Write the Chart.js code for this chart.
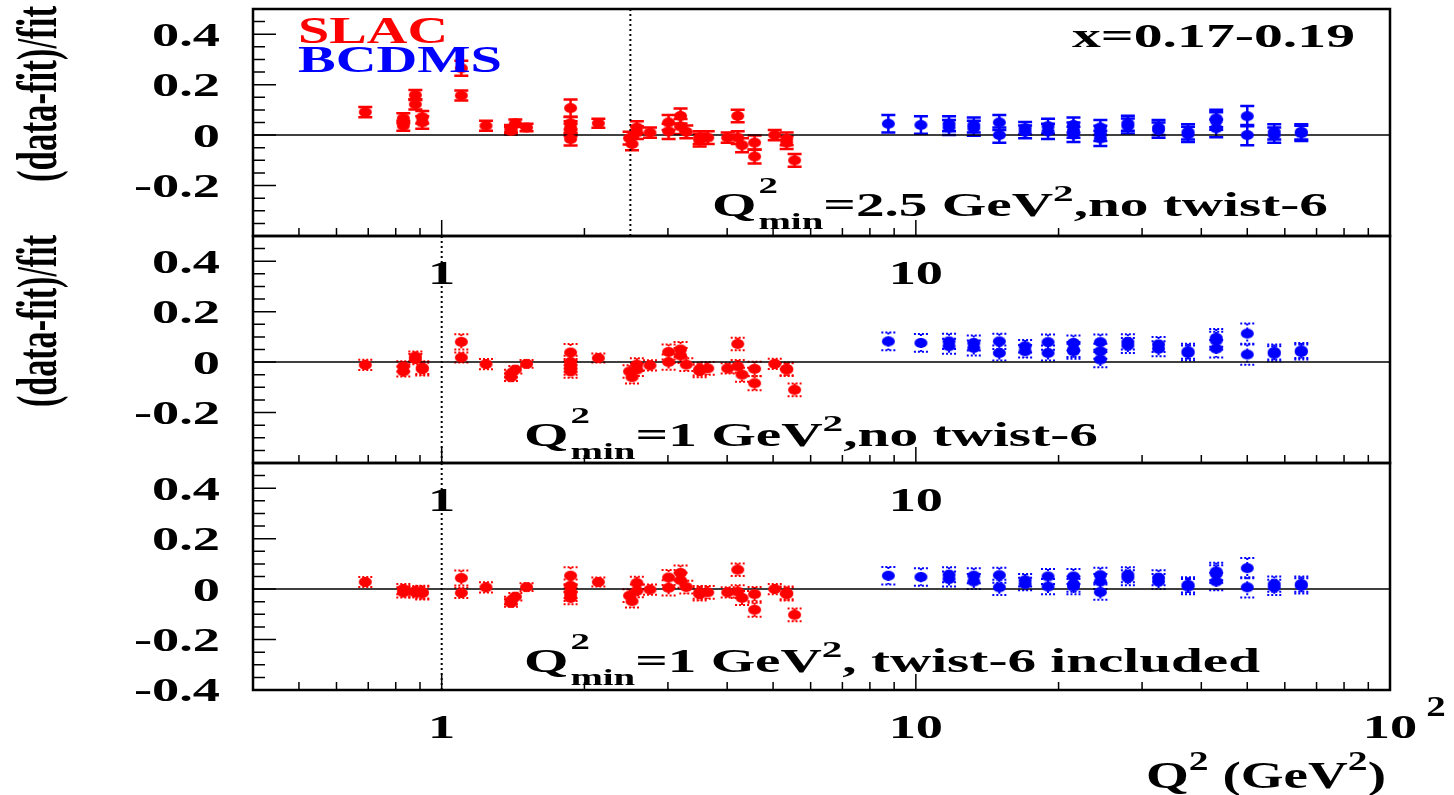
<!DOCTYPE html>
<html>
<head>
<meta charset="utf-8">
<title>(data-fit)/fit vs Q2</title>
<script src="https://cdn.jsdelivr.net/npm/chart.js@4/dist/chart.umd.min.js"></script>
<style>
  html, body { margin: 0; padding: 0; background: #fff; }
  #wrap { position: relative; width: 1454px; height: 795px; overflow: hidden; }
  canvas { position: absolute; left: 0; top: 0; }
  .lbl {
    position: absolute; white-space: nowrap; line-height: 1;
    font-family: "Liberation Serif", "DejaVu Serif", serif; font-weight: bold;
    transform-origin: 0 0;
  }
  .sp { position: relative; font-size: 0.68em; top: -1.05em; margin-left: 0.05em; margin-right: -0.5em; }
  .sb { position: relative; font-size: 0.68em; top: 0.55em; }
  .su { position: relative; font-size: 0.72em; top: -0.65em; }
</style>
</head>
<body>
<div id="wrap">
  <canvas id="c1" width="1454" height="795"></canvas>
  <canvas id="c2" width="1454" height="795"></canvas>
  <canvas id="c3" width="1454" height="795"></canvas>
</div>
<script>
// ---------- SLAC DATA ----------
const slacQ2 = [0.69, 0.83, 0.83, 0.88, 0.88, 0.91, 0.91, 1.10, 1.10, 1.24,
  1.40, 1.40, 1.43, 1.51, 1.87, 1.87, 1.87, 1.87, 1.87, 2.14,
  2.49, 2.52, 2.58, 2.58, 2.75, 3.01, 3.01, 3.19, 3.19, 3.28,
  3.50, 3.50, 3.64, 4.01, 4.21, 4.21, 4.30, 4.57, 4.57, 5.04,
  5.34, 5.34, 5.55];
const slacTop = [0.091, 0.067, 0.037, 0.159, 0.122, 0.071, 0.05, 0.265, 0.157, 0.037,
  0.017, 0.025, 0.047, 0.03, 0.107, 0.047, 0.03, 0.02, -0.016, 0.047,
  -0.012, -0.035, 0.03, 0.01, 0.01, 0.05, 0.015, 0.076, 0.034, 0.013,
  -0.01, -0.02, -0.01, -0.01, 0.076, -0.01, -0.04, -0.03, -0.085, 0.0,
  -0.015, -0.03, -0.1];
const slacMid = [-0.011, -0.017, -0.037, 0.022, 0.012, -0.028, -0.022, 0.08, 0.018, -0.008,
  -0.06, -0.045, -0.03, -0.007, 0.038, 0.0, -0.013, -0.025, -0.037, 0.016,
  -0.037, -0.06, -0.01, -0.03, -0.013, 0.04, 0.0, 0.05, 0.026, -0.01,
  -0.028, -0.035, -0.025, -0.025, 0.072, -0.017, -0.05, -0.027, -0.084, -0.007,
  -0.027, -0.03, -0.11];
const slacBot = [0.028, 0.0, -0.013, -0.013, -0.008, -0.016, -0.012, 0.044, -0.015, 0.007,
  -0.055, -0.045, -0.03, 0.008, 0.053, 0.013, -0.01, -0.022, -0.035, 0.028,
  -0.026, -0.048, 0.024, -0.007, -0.002, 0.046, 0.005, 0.064, 0.035, 0.008,
  -0.02, -0.013, -0.013, -0.013, 0.077, -0.01, -0.035, -0.02, -0.082, 0.0,
  -0.015, -0.02, -0.102];
const slacErr = [0.02, 0.02, 0.02, 0.02, 0.02, 0.025, 0.025, 0.03, 0.02, 0.02,
  0.015, 0.015, 0.015, 0.015, 0.034, 0.025, 0.025, 0.025, 0.025, 0.018,
  0.025, 0.025, 0.025, 0.025, 0.02, 0.03, 0.03, 0.03, 0.03, 0.025,
  0.025, 0.025, 0.025, 0.02, 0.025, 0.025, 0.028, 0.028, 0.028, 0.02,
  0.025, 0.025, 0.025];

// ---------- BCDMS DATA ----------
const bcdmsQ2 = [8.75, 10.25, 11.75, 11.75, 13.25, 13.25, 15, 15, 17, 17,
  19, 19, 21.5, 21.5, 21.5, 24.5, 24.5, 24.5, 28, 28,
  32.5, 32.5, 37.5, 37.5, 43, 43, 43, 50, 50, 57,
  57, 65, 65];
const bcdmsTop = [0.045, 0.04, 0.045, 0.03, 0.04, 0.027, 0.05, 0.0, 0.027, 0.013,
  0.035, 0.015, 0.04, 0.02, 0.003, 0.03, 0.007, -0.013, 0.047, 0.036,
  0.03, 0.02, 0.013, 0.003, 0.066, 0.056, 0.027, 0.075, 0.0, 0.013,
  0.0, 0.013, 0.007];
const bcdmsMid = [0.082, 0.076, 0.082, 0.063, 0.076, 0.056, 0.082, 0.036, 0.063, 0.043,
  0.079, 0.036, 0.076, 0.05, 0.043, 0.079, 0.043, 0.01, 0.08, 0.066,
  0.07, 0.053, 0.043, 0.036, 0.096, 0.085, 0.053, 0.113, 0.03, 0.04,
  0.033, 0.046, 0.04];
const bcdmsBot = [0.053, 0.048, 0.057, 0.04, 0.053, 0.03, 0.055, 0.007, 0.035, 0.02,
  0.05, 0.01, 0.05, 0.02, 0.01, 0.055, 0.03, -0.012, 0.057, 0.045,
  0.045, 0.03, 0.017, 0.01, 0.07, 0.06, 0.03, 0.083, 0.007, 0.02,
  0.007, 0.02, 0.013];
const bcdmsErr = [0.035, 0.035, 0.03, 0.03, 0.03, 0.03, 0.03, 0.03, 0.025, 0.025,
  0.03, 0.03, 0.03, 0.03, 0.03, 0.03, 0.03, 0.03, 0.03, 0.03,
  0.03, 0.03, 0.03, 0.03, 0.035, 0.035, 0.035, 0.04, 0.04, 0.03,
  0.03, 0.03, 0.03];

// ---------- AXES ----------
const X_MIN = 0.4, X_MAX = 100;
const Y_MIN = -0.4, Y_MAX = 0.5;
const xTicks = [0.5, 0.6, 0.7, 0.8, 0.9, 1, 2, 3, 4, 5, 6, 7, 8, 9, 10, 20, 30, 40, 50, 60, 70, 80, 90];
const xMajorTicks = [1, 10];
const xLabelVals = [1, 10, 100];
const xLabelText = ["1", "10", "10"];
const yMinorTicks = [-0.35, -0.3, -0.25, -0.15, -0.1, -0.05, 0.05, 0.1, 0.15, 0.25, 0.3, 0.35, 0.45];
const yMajorTicks = [-0.4, -0.2, 0, 0.2, 0.4];
const yLabelText = ["-0.4", "-0.2", "0", "0.2", "0.4"];

// ---------- STYLE ----------
const RED = "#ff0000";
const BLUE = "#0000ff";
const FONT = '"Liberation Serif", "DejaVu Serif", serif';

function dot(color) {
  const c = document.createElement("canvas");
  c.width = 15; c.height = 12;
  const g = c.getContext("2d");
  g.fillStyle = color;
  g.beginPath();
  g.ellipse(7.5, 6, 6.5, 5, 0, 0, Math.PI * 2);
  g.fill();
  return c;
}
const redDot = dot(RED);
const blueDot = dot(BLUE);

// stretched text, like the wide fonts of the original
function stretchText(ctx, txt, px, py, size, sx, align) {
  ctx.save();
  ctx.translate(px, py);
  ctx.scale(sx, 1);
  ctx.font = "bold " + size + "px " + FONT;
  ctx.textAlign = align;
  ctx.textBaseline = "alphabetic";
  ctx.fillStyle = "#000";
  ctx.fillText(txt, 0, 0);
  ctx.restore();
}

// ---------- ERROR BARS ----------
const errorBars = {
  id: "errorBars",
  beforeDatasetsDraw(chart) {
    const ctx = chart.ctx;
    const y = chart.scales.y;
    const dotted = chart.options.plugins.errorBars.dotted;
    chart.data.datasets.forEach((ds, i) => {
      const meta = chart.getDatasetMeta(i);
      ctx.save();
      ctx.strokeStyle = ds.borderColor;
      ctx.lineWidth = dotted ? 2 : 2.5;
      if (dotted) ctx.setLineDash([2, 2]);
      meta.data.forEach((pt, j) => {
        const v = ds.data[j].y;
        const e = ds.errors[j];
        const hi = y.getPixelForValue(v + e);
        const lo = y.getPixelForValue(v - e);
        ctx.beginPath();
        ctx.moveTo(pt.x, hi); ctx.lineTo(pt.x, lo);
        ctx.moveTo(pt.x - 7, hi); ctx.lineTo(pt.x + 7, hi);
        ctx.moveTo(pt.x - 7, lo); ctx.lineTo(pt.x + 7, lo);
        ctx.stroke();
      });
      ctx.restore();
    });
  }
};

// ---------- FRAME, TICKS, LABELS ----------
function makeAxesPlugin(p) {
  return {
    id: "panelAxes",
    beforeDatasetsDraw(chart) {
      const { ctx, chartArea: a } = chart;
      const { x, y } = chart.scales;
      ctx.save();
      ctx.strokeStyle = "#000";
      ctx.lineWidth = 1.5;
      const y0 = y.getPixelForValue(0);
      ctx.beginPath(); ctx.moveTo(a.left, y0); ctx.lineTo(a.right, y0); ctx.stroke();
      const xc = x.getPixelForValue(p.qCut);
      ctx.setLineDash([2, 3]);
      ctx.lineWidth = 2;
      ctx.beginPath(); ctx.moveTo(xc, a.top); ctx.lineTo(xc, a.bottom); ctx.stroke();
      ctx.restore();
    },
    afterDraw(chart) {
      const { ctx, chartArea: a } = chart;
      const { x, y } = chart.scales;
      ctx.save();
      ctx.strokeStyle = "#000";
      ctx.lineWidth = 1.5;
      ctx.beginPath();
      // y ticks, pointing in
      yMinorTicks.forEach(v => {
        const py = y.getPixelForValue(v);
        ctx.moveTo(a.left, py); ctx.lineTo(a.left + 12, py);
      });
      yMajorTicks.forEach(v => {
        const py = y.getPixelForValue(v);
        ctx.moveTo(a.left, py); ctx.lineTo(a.left + 23, py);
      });
      // x ticks on the lower edge
      xTicks.forEach(v => {
        const px = x.getPixelForValue(v);
        const len = xMajorTicks.includes(v) ? 16 : 8;
        ctx.moveTo(px, a.bottom); ctx.lineTo(px, a.bottom - len);
      });
      ctx.stroke();
      ctx.lineWidth = 2.5;
      ctx.strokeRect(a.left, a.top, a.right - a.left, a.bottom - a.top);
      ctx.restore();

      // y labels
      yMajorTicks.forEach((v, i) => {
        if (v === -0.4 && !p.lastPanel) return;
        stretchText(ctx, yLabelText[i], 220, y.getPixelForValue(v) + 0.338 * 34, 34, 1.6, "right");
      });
      // x labels (they fall inside the panel below)
      xLabelVals.forEach((v, i) => {
        if (v === 100 && !p.lastPanel) return;
        stretchText(ctx, xLabelText[i], x.getPixelForValue(v), a.bottom + 48, 34, 1.6, "center");
      });
      if (p.lastPanel) {
        stretchText(ctx, "2", x.getPixelForValue(100) + 46, a.bottom + 26, 30, 1.3, "center");
      }
    }
  };
}

// ---------- PANELS ----------
const panels = [
  { id: "c1", top: 9, bottom: 236, slac: slacTop, bcdms: bcdmsTop, qCut: 2.5, dotted: false, lastPanel: false },
  { id: "c2", top: 236, bottom: 463, slac: slacMid, bcdms: bcdmsMid, qCut: 1, dotted: true, lastPanel: false },
  { id: "c3", top: 463, bottom: 690, slac: slacBot, bcdms: bcdmsBot, qCut: 1, dotted: true, lastPanel: true },
];

panels.forEach(p => {
  const ctx = document.getElementById(p.id).getContext("2d");
  new Chart(ctx, {
    type: "scatter",
    data: {
      datasets: [
        {
          label: "SLAC",
          data: slacQ2.map((q, i) => ({ x: q, y: p.slac[i] })),
          errors: slacErr,
          borderColor: RED,
          backgroundColor: RED,
          pointStyle: redDot,
          pointRadius: 6,
        },
        {
          label: "BCDMS",
          data: bcdmsQ2.map((q, i) => ({ x: q, y: p.bcdms[i] })),
          errors: bcdmsErr,
          borderColor: BLUE,
          backgroundColor: BLUE,
          pointStyle: blueDot,
          pointRadius: 6,
        },
      ],
    },
    options: {
      responsive: false,
      animation: false,
      events: [],
      layout: { padding: { left: 253, right: 64, top: p.top, bottom: 795 - p.bottom } },
      scales: {
        x: { type: "logarithmic", min: X_MIN, max: X_MAX, display: false },
        y: { type: "linear", min: Y_MIN, max: Y_MAX, display: false },
      },
      plugins: {
        legend: { display: false },
        tooltip: { enabled: false },
        errorBars: { dotted: p.dotted },
      },
    },
    plugins: [errorBars, makeAxesPlugin(p)],
  });
});

// ---------- TEXT LABELS ----------
const wrap = document.getElementById("wrap");

function fitLabel(html, left, right, baseline, size, color) {
  const el = document.createElement("div");
  el.className = "lbl";
  el.innerHTML = html;
  el.style.fontSize = size + "px";
  el.style.color = color;
  wrap.appendChild(el);
  const w = el.getBoundingClientRect().width;
  el.style.left = left + "px";
  el.style.top = (baseline - 0.8375 * size) + "px";
  el.style.transform = "scaleX(" + ((right - left) / w) + ")";
}

function yTitle(bottomY, length) {
  const el = document.createElement("div");
  el.className = "lbl";
  el.textContent = "(data-fit)/fit";
  el.style.fontSize = "58px";
  wrap.appendChild(el);
  const k = length / el.getBoundingClientRect().width;
  el.style.left = "8px";
  el.style.top = bottomY + "px";
  el.style.transform = "rotate(-90deg) scaleX(" + k + ")";
}

const qLabel = (cut, tail) =>
  'Q<span class="sp">2</span><span class="sb">min</span>=' + cut + ' GeV<span class="su">2</span>,' + tail;

fitLabel("SLAC", 298, 448, 43, 38, RED);
fitLabel("BCDMS", 298, 502, 72, 38, BLUE);
fitLabel("x=0.17-0.19", 1072, 1355, 47, 34, "#000");
fitLabel(qLabel("2.5", "no twist-6"), 712, 1328, 217, 33, "#000");
fitLabel(qLabel("1", "no twist-6"), 524, 1098, 447, 33, "#000");
fitLabel(qLabel("1", " twist-6 included"), 524, 1260, 673, 33, "#000");
fitLabel('Q<span class="su">2</span> (GeV<span class="su">2</span>)', 1146, 1386, 788, 38, "#000");
yTitle(182, 176);
yTitle(407, 172);
</script>
</body>
</html>
